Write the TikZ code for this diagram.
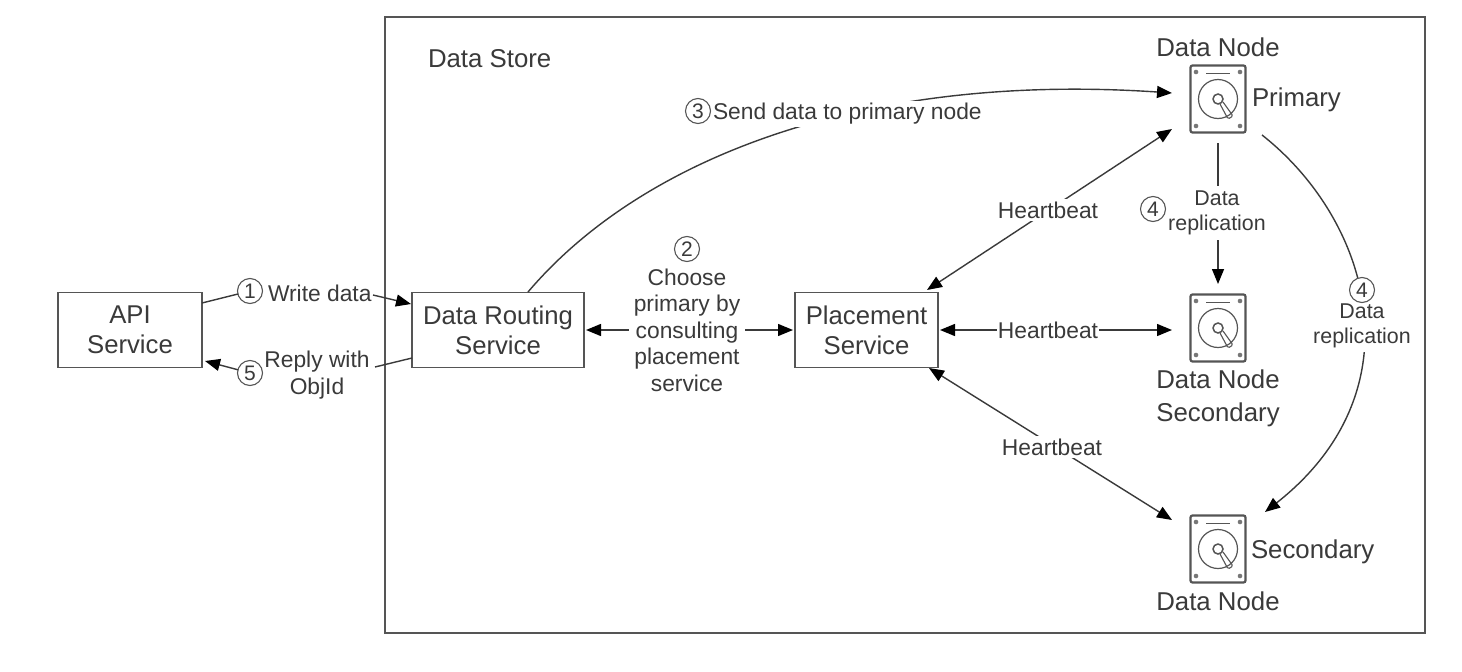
\documentclass[tikz,border=0pt]{standalone}
\usepackage{fontspec}
\setmainfont{Liberation Sans}
\usetikzlibrary{arrows.meta}
\definecolor{ink}{HTML}{3A3A3A}
\definecolor{rim}{HTML}{555555}
\tikzset{
 x=1pt,y=-1pt,
 every node/.style={text=ink,inner sep=0pt,outer sep=0pt},
 box/.style={draw=rim,line width=1.8pt,fill=white,align=center,font=\fontsize{25.7}{30}\selectfont},
 lab/.style={align=center,font=\fontsize{22.8}{26.5}\selectfont},
 smalllab/.style={align=center,font=\fontsize{21.4}{25.5}\selectfont},
 big/.style={font=\fontsize{25.8}{33}\selectfont,align=center},
 num/.style={circle,draw=rim,line width=1.1pt,minimum size=25pt,font=\fontsize{21}{21}\selectfont},
 conn/.style={draw=ink,line width=1.4pt},
 tip/.style={-{Triangle[length=15pt,width=12pt,black]}},
 tips/.style={{Triangle[length=15pt,width=12pt,black]}-{Triangle[length=15pt,width=12pt,black]}},
}
\newcommand{\disk}[2]{%
 \begin{scope}[shift={(#1,#2)}]
  \draw[rim,line width=2.2pt,rounded corners=2pt] (-27.5,-33.5) rectangle (27.5,33.5);
  \draw[rim,line width=1.2pt] (0,0) circle (19.5);
  \draw[rim,line width=1.5pt] (0,0) circle (5);
  \draw[rim,line width=1.1pt,rounded corners=1.5pt] (2,5) -- (10,20) -- (15,17) -- (5,3);
  \draw[rim,line width=1pt] (-12,-26) -- (12,-26);
  \foreach \p in {(-22,-27),(22,-27),(-22,27),(22,27)} \fill[rim!80] \p circle (2.3);
 \end{scope}}
\begin{document}
\begin{tikzpicture}
\useasboundingbox (0,0) rectangle (1462,672);
\fill[white] (0,0) rectangle (1462,672);
\node[draw=rim,line width=1.8pt,minimum width=1040pt,minimum height=616pt] (store) at (905,325) {};
\node[big,anchor=west] (storelab) at (428,59) {Data Store};
\node[box,minimum width=144pt,minimum height=75pt] (api) at (130,330) {API\\Service};
\node[box,minimum width=172pt,minimum height=75pt] (route) at (498,330) {Data Routing\\Service};
\node[box,minimum width=143pt,minimum height=75pt] (place) at (866.5,330) {Placement\\Service};
\disk{1218}{99}
\disk{1218}{328}
\disk{1218}{549}
\node[big] (dn1) at (1218,47) {Data Node};
\node[big,anchor=west] (prim) at (1252,100) {Primary};
\node[big] (dn2) at (1218,398) {Data Node\\Secondary};
\node[big,anchor=west] (sec) at (1251,552) {Secondary};
\node[big] (dn3) at (1218,601) {Data Node};
\coordinate (p1) at (1172,93);
\coordinate (p2) at (1172,129);
\coordinate (p3) at (1172,330);
\coordinate (p4) at (1172,520);
\coordinate (p5) at (1218,143);
\coordinate (p6) at (1218,284);
\coordinate (p7) at (1262,135);
\coordinate (p8) at (1265,512);
\coordinate (ph1) at (927,290);
\coordinate (ph3) at (929,368);
\coordinate (ph2) at (940,330);
% write and reply
\node[num] (n1) at (250,291) {1};
\node[lab,anchor=west] (l1) at (268,293) {Write data};
\node[num] (n5) at (250,373) {5};
\node[lab] (l5) at (317,375) {Reply with\\ObjId};
\coordinate (w1) at (202,303);
\coordinate (w2) at (373,295);
\coordinate (w3) at (411,304);
\coordinate (r1a) at (205,361);
\coordinate (r2a) at (412,358);
\coordinate (r3a) at (375,367);
\draw[conn] (w1) -- (n1);
\draw[conn,tip] (w2) -- (w3);
\draw[conn,tip] (n5) -- (r1a);
\draw[conn] (r2a) -- (r3a);
% choose primary
\coordinate (c1) at (586,330);
\coordinate (c2) at (793,330);
\draw[conn,tips] (c1) -- (c2);
\node[lab,fill=white,inner xsep=5pt] (l2) at (687,330) {Choose\\primary by\\consulting\\placement\\service};
\node[num] (n2) at (687,249) {2};
% send to primary
\coordinate (s0) at (528,292);
\draw[conn,tip] (s0) .. controls (640,160) and (860,72) .. (p1);
\node[lab,anchor=west,fill=white,inner ysep=2pt,inner xsep=0pt] (l3) at (713,114) {Send data to primary node};
\node[num,fill=white] (n3) at (698,111) {3};
% heartbeats
\draw[conn,tips] (ph1) -- (p2);
\draw[conn,tips] (ph2) -- (p3);
\draw[conn,tips] (ph3) -- (p4);
\node[lab,fill=white,inner xsep=1pt,inner ysep=3pt] (h1) at (1048,210) {Heartbeat};
\node[lab,fill=white,inner xsep=1pt,inner ysep=3pt] (h2) at (1048,330) {Heartbeat};
\node[lab,fill=white,inner xsep=1pt,inner ysep=3pt] (h3) at (1052,447) {Heartbeat};
% replication
\draw[conn,tip] (p5) -- (p6);
\node[smalllab,fill=white,inner xsep=2pt,inner ysep=5pt] (r1) at (1217,213) {Data\\replication};
\node[num] (n4a) at (1153,209) {4};
\draw[conn,tip] (p7) .. controls (1370,220) and (1420,390) .. (p8);
\node[smalllab,fill=white,inner xsep=2pt,inner ysep=4pt] (r2) at (1362,326) {Data\\replication};
\node[num,fill=white] (n4b) at (1362,290) {4};
\end{tikzpicture}
\end{document}
